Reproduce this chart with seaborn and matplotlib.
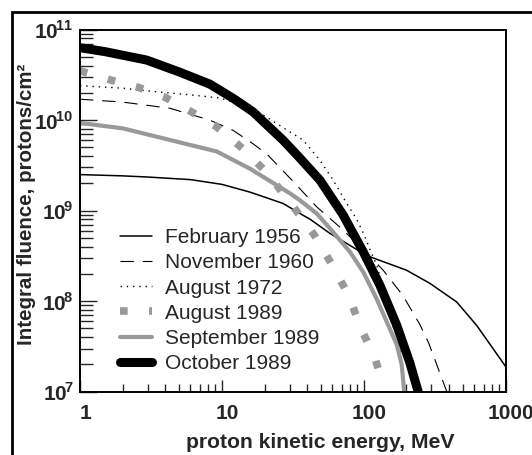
import numpy as np
import pandas as pd
import matplotlib
matplotlib.use("Agg")
import matplotlib.pyplot as plt
import matplotlib.transforms as mtransforms
from matplotlib.patches import Rectangle
import seaborn as sns

# energies (MeV) and integral fluences (protons/cm^2)
feb56_e = [1, 2, 3, 6, 10, 15.8, 27, 35.5, 42, 57.8, 99.2, 110, 200, 293, 452, 625, 1000]
feb56_f = [2.5e9, 2.42e9, 2.35e9, 2.2e9, 1.95e9, 1.6e9, 1.2e9, 9.3e8, 8e8, 5.6e8, 3.37e8,
           3.1e8, 2.2e8, 1.57e8, 9.8e7, 5.4e7, 1.9e7]

nov60_e = [1, 2, 4.3, 8.2, 12, 16.5, 20.8, 31.8, 46.6, 67.7, 100, 137, 189, 249, 288, 385]
nov60_f = [1.7e10, 1.58e10, 1.35e10, 1e10, 7.7e9, 5.5e9, 4.2e9, 2.1e9, 1.1e9, 6.6e8, 3.7e8,
           2.2e8, 1.15e8, 5.5e7, 3.4e7, 1e7]

aug72_e = [1, 2, 3, 6, 9.7, 16.5, 28.6, 37.4, 49.1, 60.9, 75.9, 89.3, 101.7, 110, 126, 150, 172, 186, 196]
aug72_f = [2.4e10, 2.25e10, 2.1e10, 1.9e10, 1.75e10, 1.35e10, 7.8e9, 6e9, 3.6e9, 2.17e9, 1.2e9,
           8e8, 5.2e8, 3.8e8, 2.3e8, 7e7, 4e7, 2.2e7, 1e7]

aug89_e = [1, 1.67, 2.57, 3.93, 5.96, 9.1, 13.9, 20.9, 31.3, 44.7, 60, 78, 95.6, 120, 139]
aug89_f = [3.5e10, 2.75e10, 2.3e10, 1.8e10, 1.26e10, 8.5e9, 4.9e9, 2.6e9, 1.15e9, 5.4e8, 2.5e8,
           1.17e8, 5e7, 2.35e7, 1.1e7]

sep89_e = [1, 2, 4, 9.2, 15.8, 30.2, 35.5, 46.6, 57.8, 80, 99.2, 123, 149, 171, 185, 193]
sep89_f = [9.3e9, 8.1e9, 6.2e9, 4.5e9, 2.9e9, 1.55e9, 1.3e9, 9.3e8, 6.35e8, 3.5e8, 2.1e8,
           1.07e8, 5.4e7, 3.3e7, 2e7, 1e7]

oct89_e = [1, 1.5, 2.95, 5, 8.2, 12, 16.5, 27, 35.5, 49.1, 71.7, 99.2, 130, 171, 211, 242]
oct89_f = [6.3e10, 5.7e10, 4.6e10, 3.4e10, 2.5e10, 1.74e10, 1.24e10, 6e9, 3.8e9, 2.17e9, 8.9e8,
           3.5e8, 1.5e8, 5.4e7, 2.1e7, 1e7]

labels = ["February 1956", "November 1960", "August 1972",
          "August 1989", "September 1989", "October 1989"]
x_ticks = [1, 10, 100, 1000]
x_ticklabels = ["1", "10", "100", "1000"]
y_ticks = [1e7, 1e8, 1e9, 1e10, 1e11]
y_ticklabels = [r"$\mathbf{10}^{\!\mathbf{7}}$", r"$\mathbf{10}^{\!\mathbf{8}}$",
                r"$\mathbf{10}^{\!\mathbf{9}}$", r"$\mathbf{10}^{\!\mathbf{10}}$",
                r"$\mathbf{10}^{\!\mathbf{11}}$"]

sns.set_style("ticks")
plt.rcParams["font.family"] = ["Liberation Sans", "DejaVu Sans"]
plt.rcParams["mathtext.fontset"] = "custom"
plt.rcParams["mathtext.rm"] = "Liberation Sans"
plt.rcParams["mathtext.bf"] = "Liberation Sans:bold"

gray = "#999999"
styles = [
    dict(color="black", linewidth=1.1, linestyle="-"),
    dict(color="black", linewidth=0.8, linestyle=(0, (12, 8))),
    dict(color="black", linewidth=1.0, linestyle=(0, (1, 3.5))),
    dict(color=gray, linewidth=5.5, linestyle=(0, (1, 2.8)), dash_capstyle="butt"),
    dict(color=gray, linewidth=3.0, linestyle="-", solid_capstyle="round"),
    dict(color="black", linewidth=6.5, linestyle="-", solid_capstyle="round"),
]
series = [(feb56_e, feb56_f), (nov60_e, nov60_f), (aug72_e, aug72_f),
          (aug89_e, aug89_f), (sep89_e, sep89_f), (oct89_e, oct89_f)]

fig = plt.figure(figsize=(5.32, 4.55), dpi=100)
ax = fig.add_axes([0.1504, 0.1391, 0.80, 0.796])

for (e, f), lab, st in zip(series, labels, styles):
    df = pd.DataFrame({"energy": e, "fluence": f})
    sns.lineplot(data=df, x="energy", y="fluence", ax=ax, label=lab, **st)

ax.set_xscale("log")
ax.set_yscale("log")
ax.set_xlim(1, 1000)
ax.set_ylim(1e7, 1e11)

ax.set_xticks(x_ticks)
ax.set_xticklabels(x_ticklabels, fontsize=15, fontweight="bold")
ax.set_yticks(y_ticks)
ax.set_yticklabels(y_ticklabels, fontsize=15)
ax.tick_params(axis="both", which="major", direction="in", width=1.0)
ax.tick_params(axis="x", which="major", length=9, pad=9)
ax.tick_params(axis="y", which="major", length=12, pad=5)
ax.tick_params(axis="x", which="minor", direction="in", length=6, width=1.0)
ax.tick_params(axis="y", which="minor", direction="in", length=9, width=1.0)

# x tick labels sit a little right of their ticks in the original
shift = mtransforms.ScaledTranslation(3.6 / 72, 0, fig.dpi_scale_trans)
for lbl in ax.get_xticklabels():
    lbl.set_transform(lbl.get_transform() + shift)

for sp in ax.spines.values():
    sp.set_linewidth(1.4)
    sp.set_color("black")

ax.set_xlabel("proton kinetic energy, MeV", fontsize=15.2, fontweight="bold")
ax.set_ylabel("Integral fluence, protons/cm²", fontsize=14.8, fontweight="bold")
ax.xaxis.set_label_coords(0.564, -0.115)
ax.yaxis.set_label_coords(-0.103, 0.518)

ax.legend(loc="upper left", bbox_to_anchor=(0.094, 0.452), frameon=False,
          fontsize=15, handlelength=1.54, handletextpad=0.6, labelspacing=0.3,
          borderpad=0, borderaxespad=0)

# outer frame: only its left and top edges fall inside the picture
fig.patches.append(Rectangle((12 / 532, -0.2), 1.2, 0.2 + (455 - 12) / 455,
                             transform=fig.transFigure, fill=False,
                             edgecolor="black", linewidth=2.0, clip_on=False))

fig.savefig("out.png", dpi=100)
